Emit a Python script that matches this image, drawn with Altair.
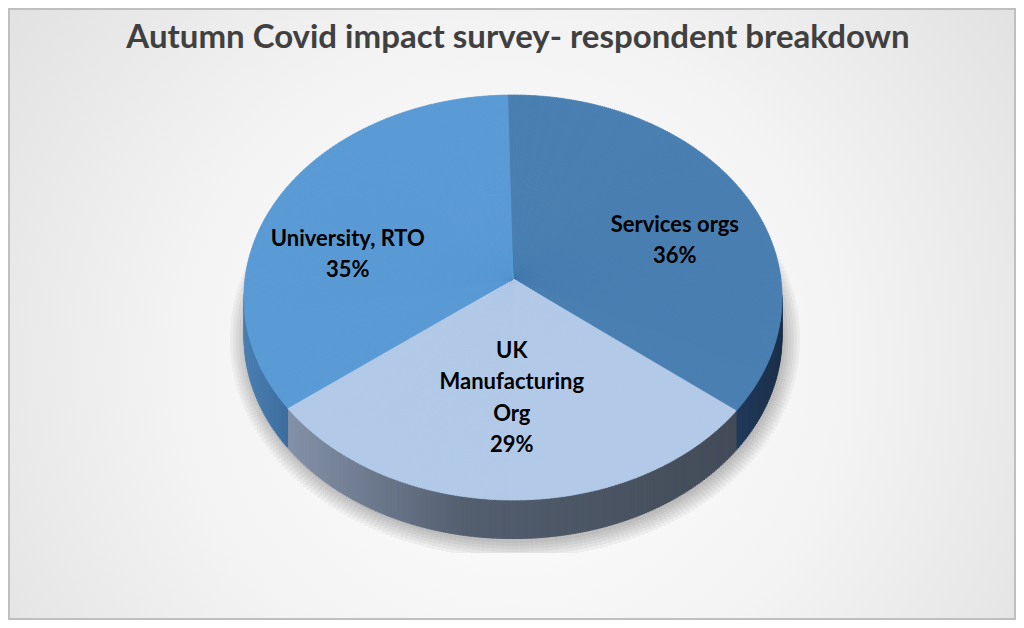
import math
import altair as alt
import pandas as pd

# ---------------- data ----------------
categories = ["Services orgs", "UK Manufacturing Org", "University, RTO"]
values = [36, 29, 35]
label_lines = ["Services orgs", "UK\nManufacturing\nOrg", "University, RTO"]
title_text = "Autumn Covid impact survey- respondent breakdown"

# ---------------- styles ----------------
top_colors = ["#4a7fb1", "#b2cae8", "#5b9bd5"]
# side shading: per-slice ramp (left -> right)
side_ramps = [
    [("#21395a", 0.0), ("#1b3049", 1.0)],
    [("#8391a8", 0.0), ("#535e6f", 0.4), ("#424b57", 1.0)],
    [("#4c7fb2", 0.0), ("#3c6d9e", 1.0)],
]
label_nudge = {"Services orgs": (17, 16), "UK Manufacturing Org": (0, -13), "University, RTO": (-19, 28)}
FONT = "Lato"
LABEL_SIZE = 22
LINE_H = 31.5

W, H = 1008, 612
CX, CY = 505, 271          # pie vertex (px)
A, B, Q = 267.9, 200.8, 0.0914   # perspective ellipse parameters
ROT = -1.4
DEPTH = 39
STEP = 0.5
SHADOW_CLIP = 545

XS = alt.Scale(domain=[0, W], range=[0, W], nice=False, zero=False)
YS = alt.Scale(domain=[0, H], range=[0, H], nice=False, zero=False)

df = pd.DataFrame({
    "category": categories,
    "value": values,
    "order": list(range(len(categories))),
    "label": label_lines,
    "fill": top_colors,
    "ndx": [label_nudge[c][0] for c in categories],
    "ndy": [label_nudge[c][1] for c in categories],
})

ramp_domain, ramp_range = [], []
for i, ramp in enumerate(side_ramps):
    for c, o in ramp:
        ramp_domain.append(2 * i + o)
        ramp_range.append(c)


def ang(e):
    return f"((({e}) + {ROT}) * PI / 180)"


def px(e, r=1.0):
    a = ang(e)
    return f"({A} * {r} * sin({a}) / (1 + {Q} * {r} * cos({a})))"


def py(e, r=1.0):
    a = ang(e)
    return f"(-{B} * {r} * cos({a}) / (1 + {Q} * {r} * cos({a})))"


def sa(e):
    return f"((atan2({px(e)}, -({py(e)})) + 2 * PI) % (2 * PI))"


base = (
    alt.Chart(df)
    .transform_window(cum="sum(value)", sort=[alt.SortField("order", order="ascending")], frame=[None, 0])
    .transform_joinaggregate(total="sum(value)")
    .transform_calculate(a0="(datum.cum - datum.value) / datum.total * 360")
    .transform_calculate(a1="datum.cum / datum.total * 360")
)

# ---------------- background ----------------
bg = (
    alt.Chart(pd.DataFrame({"a": [0]}))
    .mark_rect(
        fill=alt.RadialGradient(
            gradient="radial",
            stops=[
                alt.GradientStop(color="#ffffff", offset=0),
                alt.GradientStop(color="#f3f3f3", offset=0.45),
                alt.GradientStop(color="#d9d9d9", offset=1),
            ],
            x1=0.5, y1=0.55, r1=0, x2=0.5, y2=0.55, r2=0.75,
        ),
        stroke="#bfbfbf",
        strokeWidth=2,
    )
    .encode(x=alt.value(1), x2=alt.value(W - 1), y=alt.value(1), y2=alt.value(H - 1))
)

# ---------------- soft drop shadow (stacked translucent ellipses as strips) ----------------
ecy = CY + B * Q / (1 - Q * Q)
era = A / math.sqrt(1 - Q * Q)
erb = B / (1 - Q * Q)
scy = ecy + DEPTH + 3
shadow = (
    alt.Chart(alt.sequence(0, 180, 1, as_="t"))
    .transform_calculate(ks="[0, 1, 2, 3, 4, 5]")
    .transform_flatten(["ks"], as_=["k"])
    .transform_calculate(ra=f"{era} + 1 + 3 * datum.k")
    .transform_calculate(rb=f"{erb} + 1 + 3 * datum.k")
    .transform_calculate(sx=f"{CX + 2} - datum.ra * cos(datum.t * PI / 180)")
    .transform_calculate(sx2=f"{CX + 2} - datum.ra * cos((datum.t + 1) * PI / 180)")
    .transform_calculate(hh="datum.rb * sin((datum.t + 0.5) * PI / 180)")
    .transform_calculate(sy=f"{scy} - datum.hh")
    .transform_calculate(sy2=f"min({scy} + datum.hh, {SHADOW_CLIP})")
    .mark_rect(color="black", opacity=0.045, strokeWidth=0)
    .encode(
        x=alt.X("sx:Q", scale=XS, axis=None),
        x2=alt.X2("sx2"),
        y=alt.Y("sy:Q", scale=YS, axis=None),
        y2=alt.Y2("sy2"),
    )
)

# ---------------- side (depth) as thin vertical strips ----------------
vis_lo = math.degrees(math.acos(-Q)) - ROT
vis_hi = 360 - math.degrees(math.acos(-Q)) - ROT
side = (
    base
    .transform_calculate(lo=f"max(datum.a0, {vis_lo})")
    .transform_calculate(hi=f"min(datum.a1, {vis_hi})")
    .transform_filter("datum.hi > datum.lo")
    .transform_calculate(xl=f"{CX} + {px('datum.lo')}")
    .transform_calculate(xh=f"{CX} + {px('datum.hi')}")
    .transform_calculate(ks=f"sequence(0, ceil((datum.hi - datum.lo) / {STEP}))")
    .transform_flatten(["ks"], as_=["k"])
    .transform_calculate(q0=f"datum.lo + datum.k * {STEP}")
    .transform_calculate(q1=f"min(datum.hi, datum.q0 + {STEP})")
    .transform_filter("datum.q1 > datum.q0 + 1e-9")
    .transform_calculate(xa=f"{CX} + {px('datum.q0')}")
    .transform_calculate(xb=f"{CX} + {px('datum.q1')}")
    .transform_calculate(ya=f"{CY} + {py('datum.q0')}")
    .transform_calculate(yb=f"{CY} + {py('datum.q1')}")
    .transform_calculate(sx="min(datum.xa, datum.xb) - 0.4")
    .transform_calculate(sx2="max(datum.xa, datum.xb) + 0.4")
    .transform_calculate(sy="min(datum.ya, datum.yb) - 3")
    .transform_calculate(sy2=f"max(datum.ya, datum.yb) + {DEPTH}")
    .transform_calculate(g="2 * datum.order + ((datum.xa + datum.xb) / 2 - min(datum.xl, datum.xh)) / abs(datum.xh - datum.xl)")
    .mark_rect(strokeWidth=0)
    .encode(
        x=alt.X("sx:Q", scale=XS, axis=None),
        x2=alt.X2("sx2"),
        y=alt.Y("sy:Q", scale=YS, axis=None),
        y2=alt.Y2("sy2"),
        color=alt.Color("g:Q", scale=alt.Scale(domain=ramp_domain, range=ramp_range, interpolate="rgb"), legend=None),
    )
)

# ---------------- top face ----------------
top = (
    base
    .transform_calculate(ks=f"sequence(0, ceil((datum.a1 - datum.a0) / {STEP}))")
    .transform_flatten(["ks"], as_=["k"])
    .transform_calculate(p0=f"datum.a0 + datum.k * {STEP}")
    .transform_calculate(p1=f"min(datum.a1, datum.p0 + {STEP})")
    .transform_filter("datum.p1 > datum.p0 + 1e-9")
    .transform_calculate(pm="(datum.p0 + datum.p1) / 2")
    .transform_calculate(t0=sa("datum.p0"))
    .transform_calculate(t1r=sa("datum.p1"))
    .transform_calculate(t1="(datum.t1r < datum.t0 - 1 ? datum.t1r + 2 * PI : datum.t1r) + 0.004")
    .transform_calculate(r=f"sqrt(pow({px('datum.pm')}, 2) + pow({py('datum.pm')}, 2))")
    .mark_arc(strokeWidth=0.6)
    .encode(
        theta=alt.Theta("t0:Q", scale=None),
        theta2=alt.Theta2("t1"),
        radius=alt.Radius("r:Q", scale=None),
        x=alt.value(CX),
        y=alt.value(CY),
        fill=alt.Fill("fill:N", scale=None),
        stroke=alt.Stroke("fill:N", scale=None),
    )
)

# ---------------- labels ----------------
labels = (
    base
    .transform_calculate(mid="(datum.a0 + datum.a1) / 2")
    .transform_calculate(txt="datum.label + '\\n' + format(datum.value / datum.total, '.0%')")
    .transform_calculate(nl="length(split(datum.txt, '\\n'))")
    .transform_calculate(lx=f"{CX} + {px('datum.mid', 0.62)} + datum.ndx")
    .transform_calculate(ly=f"{CY} + {py('datum.mid', 0.62)} + datum.ndy - (datum.nl - 1) * {LINE_H} / 2")
    .mark_text(font=FONT, fontSize=LABEL_SIZE, fontWeight="bold", color="#000000",
               align="center", baseline="middle", lineBreak="\n", lineHeight=LINE_H)
    .encode(x=alt.X("lx:Q", scale=XS, axis=None), y=alt.Y("ly:Q", scale=YS, axis=None), text="txt:N")
)

title = (
    alt.Chart(pd.DataFrame({"t": [title_text]}))
    .mark_text(font=FONT, fontSize=33, fontWeight="bold", color="#404040",
               align="center", baseline="alphabetic")
    .encode(x=alt.value(510), y=alt.value(40), text="t:N")
)

chart = (
    alt.layer(bg, shadow, side, top, labels, title)
    .properties(width=W, height=H, padding=0, autosize=alt.AutoSizeParams(type="none"))
    .configure_view(strokeWidth=0)
)

chart.save("out.html", embed_options={"renderer": "svg", "actions": False})
